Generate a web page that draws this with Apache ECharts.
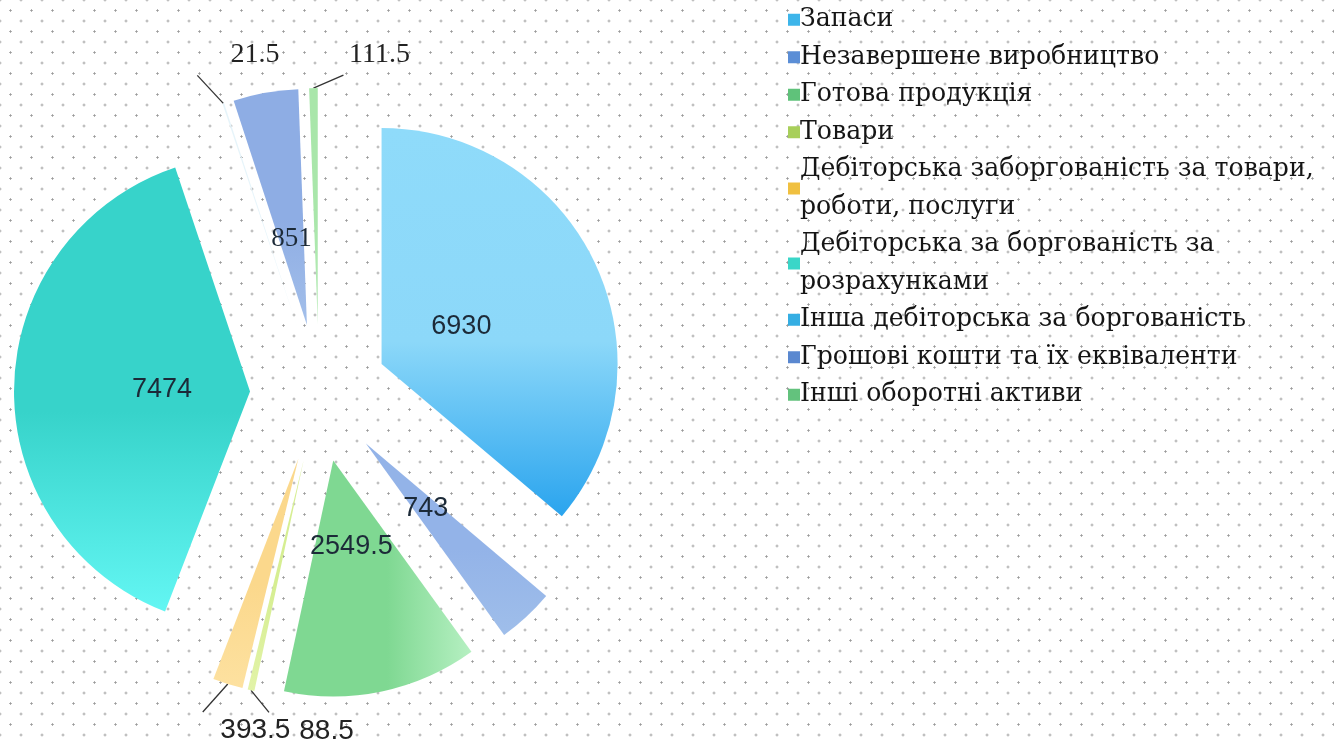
<!DOCTYPE html>
<html>
<head>
<meta charset="utf-8">
<script src="https://cdn.jsdelivr.net/npm/echarts@6/dist/echarts.min.js"></script>
<style>
  html, body { margin: 0; padding: 0; width: 1334px; height: 744px; overflow: hidden; }
  #chart {
    width: 1334px; height: 744px;
    background-color: #ffffff;
    background-image:
      radial-gradient(circle, #9a9a9a 0.9px, rgba(255,255,255,0) 1.3px),
      radial-gradient(circle, #9a9a9a 0.9px, rgba(255,255,255,0) 1.3px);
    background-size: 21px 21px, 21px 21px;
    background-position: 0px 0px, 10.5px 10.5px;
  }
</style>
</head>
<body>
<div id="chart"></div>
<script>
// ---- data ----
const categories = [
  'Запаси',
  'Незавершене виробництво',
  'Готова продукція',
  'Товари',
  'Дебіторська заборгованість за товари, роботи, послуги',
  'Дебіторська за боргованість за розрахунками',
  'Інша дебіторська за боргованість',
  'Грошові кошти та їх еквіваленти',
  'Інші оборотні активи'
];
const values = [6930, 743, 2549.5, 88.5, 393.5, 7474, 21.5, 851, 111.5];

// ---- styles ----
const sliceTop    = ['#8fdbfa', '#93b3e8', '#7fd892', '#d6ee92', '#fbd88c', '#37d3ca', '#e6f4fa', '#8eade4', '#a9e6aa'];
const sliceBottom = ['#2aa4ee', '#9fbeea', '#b6f0c2', '#e2f3a8', '#fde1a0', '#63f6f3', '#eef8fc', '#a3bfea', '#b8ecb8'];
const legendColors = ['#3db5ea', '#5b8ed6', '#5fc27a', '#a8cf5a', '#f0c040', '#3ad6c8', '#35aee3', '#5a88d0', '#63c27d'];
const serifLabel = [false, false, false, false, false, false, true, true, true];
// label nudges for the small outside labels (px) and leader-line vectors
const labelShift = { 3: [118, 14], 4: [80, 20], 6: [74, -22], 8: [106, -5] };
const leaderVec  = { 3: [18, 22], 4: [-25, 28], 6: [-26, -28], 8: [30, -13] };

const total = values.reduce((a, b) => a + b, 0);

const chart = echarts.init(document.getElementById('chart'), null, { renderer: 'canvas' });

const CENTER = [319, 393];
const R = 236;
const OFFSET = 69;

function grad(i) {
  const horiz = (i === 2);
  return new echarts.graphic.LinearGradient(0, 0, horiz ? 1 : 0, horiz ? 0 : 1, [
    { offset: 0, color: sliceTop[i] },
    { offset: 0.55, color: i === 0 ? '#8cd8f9' : sliceTop[i] },
    { offset: 1, color: sliceBottom[i] }
  ]);
}

function wrap(name, maxChars) {
  const words = name.split(' ');
  const lines = [];
  let cur = '';
  words.forEach(w => {
    const t = cur ? cur + ' ' + w : w;
    if (t.length > maxChars && cur) { lines.push(cur); cur = w; } else { cur = t; }
  });
  if (cur) lines.push(cur);
  return lines.join('\n');
}

const mainData = categories.map((name, i) => {
  const small = values[i] / total < 0.03;
  return {
    name, value: values[i], selected: true,
    itemStyle: { color: grad(i) },
    label: {
      show: small,
      fontFamily: serifLabel[i] ? 'Liberation Serif' : 'Liberation Sans'
    },
    labelLine: { show: small }
  };
});

const innerData = categories.map((name, i) => {
  const big = values[i] / total >= 0.03;
  return {
    name, value: values[i], selected: true,
    itemStyle: { color: 'rgba(0,0,0,0)' },
    label: {
      show: big,
      fontFamily: serifLabel[i] ? 'Liberation Serif' : 'Liberation Sans'
    }
  };
});

chart.setOption({
  animation: false,
  legend: {
    orient: 'vertical',
    left: 783,
    top: -4,
    itemWidth: 12,
    itemHeight: 12,
    itemGap: 0,
    icon: 'rect',
    selectedMode: false,
    formatter: name => wrap(name, 37),
    textStyle: {
      fontFamily: 'DejaVu Serif',
      fontSize: 25.2,
      color: '#151515',
      lineHeight: 37.5,
      padding: [0, 0, 0, -5]
    },
    data: categories.map((name, i) => ({ name, itemStyle: { color: legendColors[i] } }))
  },
  series: [
    {
      type: 'pie',
      center: CENTER,
      radius: [0, R],
      startAngle: 90,
      clockwise: true,
      selectedMode: 'multiple',
      selectedOffset: OFFSET,
      avoidLabelOverlap: false,
      minShowLabelAngle: 0,
      silent: true,
      label: {
        position: 'outside',
        formatter: '{c}',
        fontSize: 28,
        color: '#222'
      },
      labelLine: {
        length: 28,
        length2: 4,
        lineStyle: { color: '#333', width: 1.3 }
      },
      labelLayout: function (p) {
        const s = labelShift[p.dataIndex];
        if (!s) return { hideOverlap: false };
        const out = { dx: s[0], dy: s[1], hideOverlap: false };
        const v = leaderVec[p.dataIndex];
        if (v && p.labelLinePoints && p.labelLinePoints.length) {
          const a = p.labelLinePoints[0];
          out.labelLinePoints = [[a[0], a[1]], [a[0] + v[0], a[1] + v[1]]];
        }
        return out;
      },
      emphasis: { disabled: true },
      data: mainData
    },
    {
      type: 'pie',
      center: CENTER,
      radius: [0, R * 0.72],
      startAngle: 90,
      clockwise: true,
      selectedMode: 'multiple',
      selectedOffset: OFFSET,
      avoidLabelOverlap: false,
      minShowLabelAngle: 0,
      silent: true,
      label: {
        position: 'inside',
        formatter: '{c}',
        fontSize: 27,
        color: '#1c2a38',
        overflow: 'none'
      },
      labelLayout: { hideOverlap: false },
      labelLine: { show: false },
      emphasis: { disabled: true },
      data: innerData
    }
  ]
});
</script>
</body>
</html>
